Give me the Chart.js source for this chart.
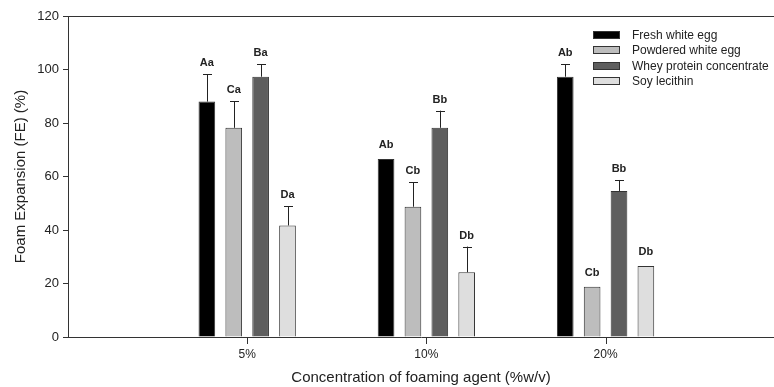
<!DOCTYPE html>
<html>
<head>
<meta charset="utf-8">
<script src="https://cdn.jsdelivr.net/npm/chart.js@4.4.1/dist/chart.umd.min.js"></script>
<style>
  html, body { margin: 0; padding: 0; background: #fff; }
  #wrap { width: 774px; height: 387px; }
</style>
</head>
<body>
<div id="wrap"><canvas id="foamChart"></canvas></div>
<script>
const concentrations = ["5%", "10%", "20%"];
const seriesNames = ["Fresh white egg", "Powdered white egg", "Whey protein concentrate", "Soy lecithin"];
const freshEgg = [88, 66.5, 97.3];
const powderedEgg = [78.2, 48.7, 18.8];
const wheyProtein = [97.3, 78.2, 54.6];
const soyLecithin = [41.7, 24.2, 26.5];
const freshErr = [10.3, 0, 4.6];
const powderedErr = [10, 9.2, 0];
const wheyErr = [4.7, 6.4, 4.1];
const soyErr = [7.2, 9.6, 0];
const freshLetters = ["Aa", "Ab", "Ab"];
const powderedLetters = ["Ca", "Cb", "Cb"];
const wheyLetters = ["Ba", "Bb", "Bb"];
const soyLetters = ["Da", "Db", "Db"];
const yTicks = [0, 20, 40, 60, 80, 100, 120];

const fills = ["#000000", "#bdbdbd", "#5e5e5e", "#dedede"];
const values = [freshEgg, powderedEgg, wheyProtein, soyLecithin];
const errors = [freshErr, powderedErr, wheyErr, soyErr];
const letters = [freshLetters, powderedLetters, wheyLetters, soyLetters];
const FONT = "'Liberation Sans', Arial, sans-serif";
const INK = "#222";

// error bars + significance letters
const errorBarPlugin = {
  id: "errorBars",
  afterDatasetsDraw(chart) {
    const ctx = chart.ctx;
    const yScale = chart.scales.y;
    ctx.save();
    chart.data.datasets.forEach((ds, di) => {
      const meta = chart.getDatasetMeta(di);
      meta.data.forEach((bar, i) => {
        const v = values[di][i];
        const e = errors[di][i];
        const top = yScale.getPixelForValue(v);
        let labelY = top - 14;
        if (e > 0) {
          const cap = yScale.getPixelForValue(v + e);
          ctx.strokeStyle = "#222";
          ctx.lineWidth = 1;
          ctx.beginPath();
          ctx.moveTo(Math.round(bar.x) + 0.5, top);
          ctx.lineTo(Math.round(bar.x) + 0.5, cap);
          ctx.moveTo(Math.round(bar.x) - 4, Math.round(cap) + 0.5);
          ctx.lineTo(Math.round(bar.x) + 5, Math.round(cap) + 0.5);
          ctx.stroke();
          labelY = cap - 11;
        }
        ctx.fillStyle = INK;
        ctx.font = "bold 11px " + FONT;
        ctx.textAlign = "center";
        ctx.textBaseline = "middle";
        ctx.fillText(letters[di][i], bar.x, labelY);
      });
    });
    ctx.restore();
  }
};

// top frame line, x tick marks, legend box
const framePlugin = {
  id: "frame",
  afterDraw(chart) {
    const ctx = chart.ctx;
    const a = chart.chartArea;
    const xScale = chart.scales.x;
    ctx.save();
    ctx.fillStyle = "#333";
    ctx.fillRect(a.left, Math.round(a.top), a.right - a.left, 1);
    concentrations.forEach((c, i) => {
      const px = Math.round(xScale.getPixelForValue(i + 1));
      ctx.fillRect(px, Math.round(a.bottom), 1, 7);
    });

    const bx = 593, by0 = 31, step = 15.4;
    ctx.font = "12px " + FONT;
    ctx.textAlign = "left";
    ctx.textBaseline = "middle";
    seriesNames.forEach((name, i) => {
      const y = Math.round(by0 + i * step);
      ctx.fillStyle = fills[i];
      ctx.fillRect(bx, y, 27, 8);
      ctx.strokeStyle = "#333";
      ctx.lineWidth = 1;
      ctx.strokeRect(bx + 0.5, y + 0.5, 26, 7);
      ctx.fillStyle = INK;
      ctx.fillText(name, 632, y + 4.5);
    });
    ctx.restore();
  }
};

const ctx = document.getElementById("foamChart").getContext("2d");
new Chart(ctx, {
  type: "bar",
  data: {
    datasets: seriesNames.map((name, di) => ({
      label: name,
      data: values[di].map((v, i) => ({ x: i + 1, y: v })),
      backgroundColor: fills[di],
      borderColor: "#333",
      borderWidth: 1,
      borderSkipped: "bottom",
      categoryPercentage: 0.6,
      barPercentage: 0.62
    }))
  },
  options: {
    responsive: true,
    maintainAspectRatio: false,
    animation: false,
    layout: { padding: { left: 0, right: 0, top: 16, bottom: 0 } },
    plugins: {
      legend: { display: false },
      tooltip: { enabled: false }
    },
    scales: {
      x: {
        type: "linear",
        offset: false,
        min: 0,
        max: 3.94,
        afterBuildTicks: (scale) => { scale.ticks = [1, 2, 3].map(v => ({ value: v })); },
        afterFit: (scale) => { scale.height = 50; },
        ticks: {
          color: INK,
          font: { family: FONT, size: 12 },
          padding: 10,
          maxRotation: 0,
          callback: (v) => concentrations[v - 1]
        },
        grid: { offset: false, drawOnChartArea: false, drawTicks: false },
        border: { color: "#333", width: 1 },
        title: {
          display: true,
          text: "Concentration of foaming agent (%w/v)",
          color: INK,
          font: { family: FONT, size: 15 },
          padding: { top: 3, bottom: 0 }
        }
      },
      y: {
        min: 0,
        max: 120,
        afterBuildTicks: (scale) => { scale.ticks = yTicks.map(v => ({ value: v })); },
        afterFit: (scale) => { scale.width = 68; },
        ticks: {
          color: INK,
          font: { family: FONT, size: 13 },
          padding: 4
        },
        grid: { drawOnChartArea: false, drawTicks: true, tickLength: 5, color: "#333" },
        border: { color: "#333", width: 1 },
        title: {
          display: true,
          text: "Foam Expansion (FE) (%)",
          color: INK,
          font: { family: FONT, size: 15 },
          padding: { top: 12, bottom: 4 }
        }
      }
    }
  },
  plugins: [errorBarPlugin, framePlugin]
});
</script>
</body>
</html>
